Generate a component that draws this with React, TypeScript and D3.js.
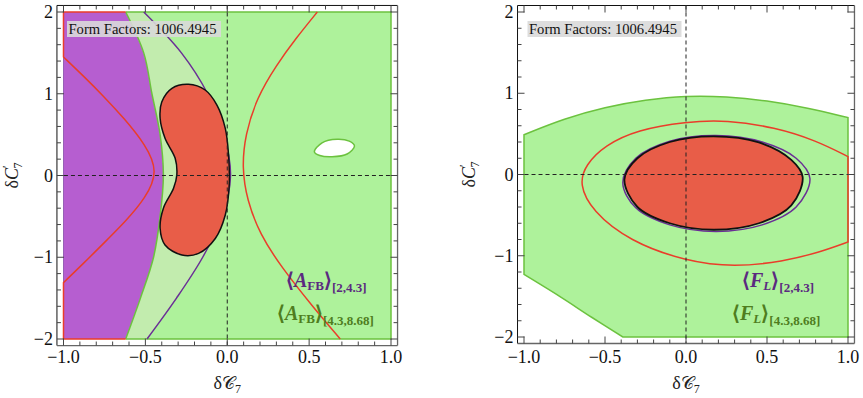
import * as d3 from 'd3';

type Pt = [number, number];

// axis ticks shared by both panels
const xTickValues = [-1, -0.5, 0, 0.5, 1];
const xTickLabels = ['−1.0', '−0.5', '0.0', '0.5', '1.0'];
const yTickValues = [-2, -1, 0, 1, 2];
const yTickLabels = ['−2', '−1', '0', '1', '2'];
const formFactorsLabel = 'Form Factors: 1006.4945';

// ---- left panel: <A_FB> constraints (dC7, dC7')
const afbGreenEdge: Pt[] = [
  [-0.62, 2], [-0.51, 1.5], [-0.46, 1], [-0.41, 0.5], [-0.39, 0],
  [-0.41, -0.5], [-0.45, -1], [-0.53, -1.5], [-0.62, -2],
];
const afbPurpleEdge: Pt[] = [
  [-0.51, 2], [-0.28, 1.5], [-0.12, 1], [-0.02, 0.5], [0.02, 0],
  [-0.03, -0.5], [-0.15, -1], [-0.31, -1.5], [-0.49, -2],
];
const afbRedLeft: Pt[] = [
  [-1, 1.45], [-0.88, 1.22], [-0.76, 0.98], [-0.63, 0.7], [-0.5, 0.38], [-0.42, 0.05],
  [-0.5, -0.28], [-0.62, -0.56], [-0.76, -0.84], [-0.88, -1.08], [-1, -1.31],
];
const afbRedRight: Pt[] = [
  [0.55, 2], [0.42, 1.68], [0.3, 1.35], [0.18, 0.95], [0.11, 0.5], [0.09, 0.1],
  [0.12, -0.3], [0.2, -0.72], [0.33, -1.12], [0.52, -1.6], [0.69, -2],
];
const afbHole: Pt[] = [
  [0.532, 0.29], [0.579, 0.4], [0.671, 0.443], [0.745, 0.42], [0.777, 0.361],
  [0.732, 0.263], [0.64, 0.23], [0.565, 0.245],
];
const afbCombined: Pt[] = [
  [-0.237, 1.116], [-0.338, 1.067], [-0.4, 0.9], [-0.41, 0.7], [-0.38, 0.455],
  [-0.318, 0.21], [-0.308, 0.006], [-0.328, -0.157], [-0.39, -0.4], [-0.41, -0.646],
  [-0.38, -0.85], [-0.277, -0.972], [-0.175, -0.952], [-0.073, -0.77], [-0.012, -0.483],
  [0.012, -0.116], [0.008, 0.25], [-0.012, 0.577], [-0.063, 0.862], [-0.135, 1.046],
];

// ---- right panel: <F_L> constraints
const flGreenTop: Pt[] = [
  [-1, 0.49], [-0.75, 0.69], [-0.5, 0.83], [-0.25, 0.92], [0, 0.97],
  [0.25, 0.96], [0.5, 0.91], [0.75, 0.82], [1, 0.7],
];
const flGreenBottom: Pt[] = [[-0.39, -2], [-0.58, -1.76], [-0.78, -1.5], [-1, -1.23]];
const flRed: Pt[] = [
  [1, 0.22], [0.8, 0.42], [0.55, 0.58], [0.25, 0.67], [0, 0.65], [-0.3, 0.55],
  [-0.5, 0.36], [-0.62, 0.12], [-0.66, -0.12], [-0.58, -0.45],
  [-0.35, -0.82], [0, -1.07], [0.3, -1.14], [0.6, -1.07], [0.82, -0.96], [1, -0.83],
];
const flPurple: Pt[] = [
  [0.765, -0.05], [0.68, 0.2], [0.47, 0.4], [0.185, 0.48], [-0.1, 0.41], [-0.31, 0.2],
  [-0.39, -0.1], [-0.31, -0.41], [-0.1, -0.62], [0.185, -0.7], [0.47, -0.62], [0.68, -0.4],
];
const flCombined: Pt[] = [
  [0.72, -0.03], [0.65, 0.18], [0.45, 0.395], [0.17, 0.47], [-0.1, 0.4], [-0.3, 0.2],
  [-0.38, -0.06], [-0.3, -0.4], [-0.1, -0.6], [0.17, -0.68], [0.45, -0.6], [0.65, -0.38],
];

const FONT = '"Liberation Serif", "Times New Roman", serif';
const purpleFill = '#b65ed0';
const greenFill = '#aef29b';
const overlapFill = '#c2ecae';
const redFill = '#e85d48';
const greenLine = '#6cc23f';
const purpleLine = '#6a2f95';
const redLine = '#ea3d2a';
const purpleText = '#5b2a80';
const greenText = '#4f7d1e';

type Sc = d3.ScaleLinear<number, number>;

function smooth(pts: Pt[], x: Sc, y: Sc, closed = false) {
  return d3.line<Pt>()
    .x(d => x(d[0]))
    .y(d => y(d[1]))
    .curve(closed ? d3.curveCatmullRomClosed : d3.curveCatmullRom)(pts) || '';
}
function soft(pts: Pt[], x: Sc, y: Sc) {
  return d3.line<Pt>().x(d => x(d[0])).y(d => y(d[1])).curve(d3.curveBasis)(pts) || '';
}
const corners = (pts: Pt[], x: Sc, y: Sc) => pts.map(p => `L${x(p[0])},${y(p[1])}`).join('');

function Legend({ x, y, color, sym, symSub, subItalic, range }: any) {
  return (
    <text x={x} y={y} fill={color} fontWeight="bold" fontSize={20} fontFamily={FONT}>
      ⟨<tspan fontStyle="italic">{sym}</tspan>
      <tspan fontSize={13} fontStyle={subItalic ? 'italic' : 'normal'} dy={3}>{symSub}</tspan>
      <tspan dy={-3}>⟩</tspan>
      <tspan fontSize={13} dy={5}>{range}</tspan>
    </text>
  );
}

function Frame({ x, y, children, titleX }: { x: Sc; y: Sc; children?: any; titleX: number }) {
  const left = x(-1.04), right = x(1.04), top = y(2.08), bottom = y(-2.08);
  const xMinor = d3.range(-10, 11).map(i => i / 10);
  const yMinor = d3.range(-10, 11).map(i => i / 5);
  const tick = '#444';
  return (
    <g>
      {children}
      {/* zero lines */}
      <line x1={x(0)} x2={x(0)} y1={top} y2={bottom} stroke="#222" strokeDasharray="4,3" />
      <line x1={left} x2={right} y1={y(0)} y2={y(0)} stroke="#222" strokeDasharray="4,3" />
      {/* label box */}
      <rect x={x(-1) + 3.5} y={21} width={154} height={16} fill="#d9d9d9" opacity={0.9} />
      <text x={x(-1) + 5} y={34} fontFamily={FONT} fontSize={14.6} fill="#111">{formFactorsLabel}</text>
      {/* frame */}
      <line x1={left} x2={right} y1={top} y2={top} stroke="#111" />
      <line x1={left} x2={left} y1={top} y2={bottom} stroke="#111" />
      <line x1={left} x2={right} y1={bottom} y2={bottom} stroke="#666" strokeWidth={1.3} />
      <line x1={right} x2={right} y1={top} y2={bottom} stroke="#666" strokeWidth={1.3} />
      {xMinor.map(v => {
        const major = xTickValues.some(t => Math.abs(t - v) < 1e-9);
        const len = major ? 7 : 4;
        return (
          <g key={'xt' + v}>
            <line x1={x(v)} x2={x(v)} y1={bottom} y2={bottom - len} stroke={tick} />
            <line x1={x(v)} x2={x(v)} y1={top} y2={top + len} stroke={tick} />
          </g>
        );
      })}
      {yMinor.map(v => {
        const major = yTickValues.some(t => Math.abs(t - v) < 1e-9);
        const len = major ? 7 : 4;
        return (
          <g key={'yt' + v}>
            <line x1={left} x2={left + len} y1={y(v)} y2={y(v)} stroke={tick} />
            <line x1={right} x2={right - len} y1={y(v)} y2={y(v)} stroke={tick} />
          </g>
        );
      })}
      {xTickValues.map((v, i) => (
        <text key={'xl' + v} x={x(v)} y={363} textAnchor="middle" fontFamily={FONT} fontSize={18} fill="#111">
          {xTickLabels[i]}
        </text>
      ))}
      {yTickValues.map((v, i) => (
        <text key={'yl' + v} x={left - 4} y={y(v) + 6} textAnchor="end" fontFamily={FONT} fontSize={18} fill="#111">
          {yTickLabels[i]}
        </text>
      ))}
      {/* axis titles */}
      <text x={(left + right) / 2} y={389} textAnchor="middle" fontFamily={FONT} fontSize={18} fill="#222">
        δ<tspan>𝒞</tspan><tspan fontSize={12} dy={4}>7</tspan>
      </text>
      <text transform={`translate(${titleX},${y(0)}) rotate(-90)`} textAnchor="middle" fontFamily={FONT} fontSize={18} fill="#222">
        δ<tspan fontStyle="italic">C</tspan><tspan fontSize={12} dy={-7}>′</tspan><tspan fontSize={12} dx={-3} dy={11}>7</tspan>
      </text>
    </g>
  );
}

function AfbPanel() {
  const x = d3.scaleLinear().domain([-1, 1]).range([63.5, 391]);
  const y = d3.scaleLinear().domain([-2, 2]).range([339, 12]);
  const purpleRegion = smooth(afbGreenEdge, x, y) + corners([[-1, -2], [-1, 2]], x, y) + 'Z';
  const overlap = smooth(afbGreenEdge, x, y) + smooth([...afbPurpleEdge].reverse(), x, y).replace(/^M/, 'L') + 'Z';
  const greenRegion = smooth(afbPurpleEdge, x, y) + corners([[1, -2], [1, 2]], x, y) + 'Z';
  const redLeft = `M${x(-0.62)},${y(2)}L${x(-1)},${y(2)}` + soft(afbRedLeft, x, y).replace(/^M/, 'L') +
    corners([[-1, -2], [-0.62, -2]], x, y);
  return (
    <Frame x={x} y={y} titleX={18}>
      <path d={purpleRegion} fill={purpleFill} />
      <path d={overlap} fill={overlapFill} />
      <path d={greenRegion} fill={greenFill} />
      <path d={smooth(afbHole, x, y, true)} fill="#fff" stroke={greenLine} strokeWidth={1.5} />
      <path d={`M${x(-0.62)},${y(2)}L${x(1)},${y(2)}L${x(1)},${y(-2)}L${x(-0.62)},${y(-2)}`} fill="none" stroke={greenLine} strokeWidth={1.5} />
      <line x1={x(-1)} x2={x(-1)} y1={y(1.45)} y2={y(-1.31)} stroke={purpleLine} strokeWidth={1} opacity={0.6} />
      <path d={smooth(afbGreenEdge, x, y)} fill="none" stroke={greenLine} strokeWidth={1.5} />
      <path d={smooth(afbPurpleEdge, x, y)} fill="none" stroke={purpleLine} strokeWidth={1.5} />
      <path d={redLeft} fill="none" stroke={redLine} strokeWidth={1.5} />
      <path d={soft(afbRedRight, x, y)} fill="none" stroke={redLine} strokeWidth={1.5} />
      <path d={smooth(afbCombined, x, y, true)} fill={redFill} stroke="#111" strokeWidth={1.5} />
      <Legend x={286} y={287} color={purpleText} sym="A" symSub="FB" range="[2,4.3]" />
      <Legend x={277} y={320} color={greenText} sym="A" symSub="FB" range="[4.3,8.68]" />
    </Frame>
  );
}

function FlPanel() {
  const x = d3.scaleLinear().domain([-1, 1]).range([524, 848]);
  const y = d3.scaleLinear().domain([-2, 2]).range([337, 12]);
  const greenRegion = soft(flGreenTop, x, y) + corners([[1, -2]], x, y) +
    smooth(flGreenBottom, x, y).replace(/^M/, 'L') + 'Z';
  return (
    <Frame x={x} y={y} titleX={475}>
      <path d={greenRegion} fill={greenFill} stroke={greenLine} strokeWidth={1.5} />
      <path d={soft(flRed, x, y) + 'Z'} fill="none" stroke={redLine} strokeWidth={1.5} />
      <path d={smooth(flPurple, x, y, true)} fill="none" stroke={purpleLine} strokeWidth={1.5} />
      <path d={smooth(flCombined, x, y, true)} fill={redFill} stroke="#111" strokeWidth={1.8} />
      <Legend x={742} y={287} color={purpleText} sym="F" symSub="L" subItalic range="[2,4.3]" />
      <Legend x={732} y={320} color={greenText} sym="F" symSub="L" subItalic range="[4.3,8.68]" />
    </Frame>
  );
}

export default function App() {
  return (
    <svg width={863} height={398} style={{ position: 'absolute', left: 0, top: 0, background: '#fff' }}>
      <AfbPanel />
      <FlPanel />
    </svg>
  );
}
